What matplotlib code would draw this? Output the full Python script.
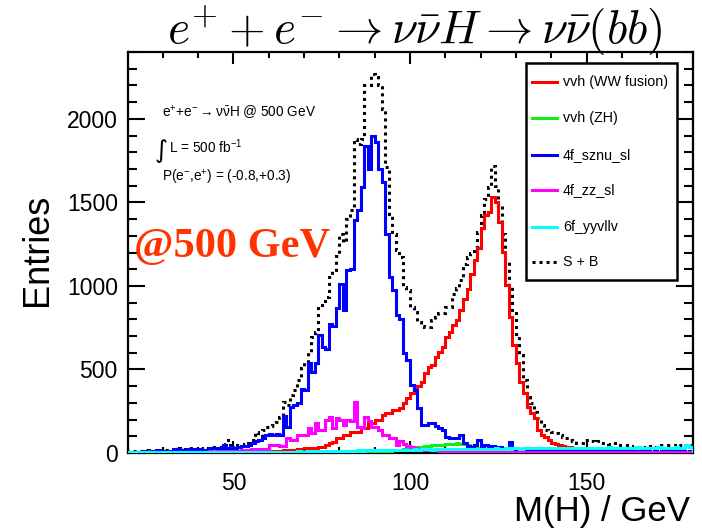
import numpy as np
import matplotlib
matplotlib.use("Agg")
import matplotlib.pyplot as plt
from matplotlib.ticker import MultipleLocator, FixedLocator
from matplotlib.lines import Line2D
from matplotlib.patches import Rectangle

plt.rcParams['font.family'] = ['Liberation Sans', 'DejaVu Sans']
plt.rcParams['mathtext.fontset'] = 'custom'
plt.rcParams['mathtext.rm'] = 'Liberation Sans'
plt.rcParams['mathtext.it'] = 'Liberation Sans'
plt.rcParams['mathtext.bf'] = 'Liberation Sans:bold'

# ---------------- data (1 GeV bins, 20..180 GeV) ----------------
bin_low = 20
bin_high = 180

vvh_ww = [
    2, 2, 2, 2, 3, 2, 3, 3, 3, 3,
    3, 3, 3, 3, 4, 3, 4, 4, 4, 4,
    4, 4, 5, 4, 5, 5, 5, 5, 6, 5,
    5, 5, 6, 6, 7, 8, 8, 8, 9, 10,
    10, 12, 12, 14, 18, 18, 20, 20, 22, 22,
    28, 28, 30, 30, 38, 38, 45, 58, 68, 88,
    90, 108, 108, 127, 127, 127, 147, 147, 177, 177,
    197, 197, 227, 237, 240, 257, 260, 270, 300, 327,
    357, 386, 400, 426, 476, 516, 526, 576, 606, 635,
    695, 725, 765, 795, 855, 924, 984, 1070, 1158, 1228,
    1348, 1427, 1442, 1532, 1502, 1382, 1203, 1004, 815, 645,
    536, 426, 357, 277, 240, 207, 137, 110, 98, 75,
    62, 52, 45, 40, 38, 35, 30, 25, 20, 18,
    15, 14, 12, 10, 10, 8, 8, 7, 6, 6,
    5, 5, 5, 5, 4, 4, 4, 4, 3, 3,
    3, 3, 3, 3, 2, 2, 2, 2, 2, 2]

vvh_zh = [
    0, 0, 1, 0, 0, 1, 0, 0, 1, 0,
    1, 0, 1, 1, 0, 1, 1, 0, 1, 1,
    1, 1, 2, 1, 1, 2, 1, 2, 2, 1,
    2, 2, 2, 3, 2, 3, 3, 2, 3, 3,
    3, 3, 4, 3, 4, 4, 3, 4, 5, 4,
    5, 5, 4, 6, 5, 6, 6, 5, 7, 6,
    7, 7, 8, 7, 8, 9, 8, 10, 9, 10,
    10, 11, 12, 12, 14, 15, 18, 20, 22, 25,
    28, 32, 35, 38, 40, 42, 45, 48, 50, 50,
    52, 55, 55, 58, 55, 52, 48, 42, 38, 30,
    25, 20, 15, 12, 10, 8, 6, 5, 4, 3,
    2, 3, 2, 2, 1, 2, 2, 1, 1, 2,
    1, 1, 2, 1, 1, 1, 0, 1, 1, 0,
    1, 0, 1, 0, 1, 0, 0, 1, 0, 0,
    1, 0, 0, 1, 0, 0, 0, 1, 0, 0,
    0, 1, 0, 0, 0, 1, 0, 0, 0, 0]

f4_sznu_sl = [
    5, 8, 5, 6, 10, 5, 8, 10, 15, 12,
    8, 14, 10, 25, 22, 18, 15, 22, 24, 20,
    22, 15, 18, 28, 30, 26, 30, 48, 32, 34,
    30, 38, 42, 40, 45, 58, 70, 76, 88, 108,
    112, 110, 115, 110, 220, 157, 277, 290, 300, 386,
    380, 536, 486, 536, 705, 635, 620, 775, 760, 865,
    1014, 855, 1094, 1100, 1392, 1452, 1592, 1840, 1700, 1900,
    1860, 1700, 1620, 1313, 1054, 974, 825, 800, 596, 556,
    406, 376, 267, 170, 167, 177, 177, 160, 147, 140,
    98, 88, 88, 90, 108, 58, 40, 38, 45, 78,
    40, 45, 38, 40, 30, 35, 28, 30, 65, 25,
    22, 25, 20, 18, 22, 20, 18, 15, 20, 18,
    15, 18, 15, 12, 15, 18, 14, 12, 15, 12,
    14, 12, 10, 12, 14, 10, 12, 10, 8, 12,
    10, 12, 8, 10, 12, 8, 10, 12, 8, 10,
    8, 10, 12, 8, 10, 8, 12, 10, 8, 10]

f4_zz_sl = [
    3, 4, 2, 3, 4, 2, 3, 5, 4, 3,
    5, 4, 6, 5, 4, 6, 5, 7, 6, 5,
    8, 6, 7, 9, 8, 10, 9, 12, 10, 12,
    14, 12, 15, 16, 18, 22, 20, 24, 22, 26,
    48, 45, 50, 40, 42, 88, 78, 80, 108, 105,
    110, 147, 120, 177, 137, 140, 197, 217, 147, 207,
    197, 167, 197, 190, 307, 157, 147, 217, 190, 157,
    157, 137, 107, 107, 88, 88, 48, 70, 52, 40,
    38, 30, 25, 22, 20, 18, 16, 15, 14, 12,
    12, 10, 11, 10, 9, 10, 9, 8, 9, 8,
    8, 9, 8, 7, 8, 7, 8, 7, 6, 7,
    6, 7, 6, 5, 6, 5, 6, 5, 5, 6,
    5, 6, 5, 5, 4, 5, 5, 4, 5, 4,
    5, 4, 5, 4, 4, 5, 4, 4, 5, 4,
    4, 5, 4, 4, 3, 4, 4, 3, 4, 3,
    4, 3, 4, 3, 3, 4, 3, 3, 4, 3]

f6_yyvllv = [
    3, 3, 4, 3, 4, 3, 4, 3, 4, 4,
    4, 4, 5, 4, 5, 4, 5, 5, 4, 5,
    5, 5, 6, 5, 6, 5, 6, 6, 5, 6,
    6, 6, 7, 6, 7, 6, 7, 7, 6, 7,
    7, 7, 8, 7, 8, 7, 8, 8, 9, 8,
    8, 9, 9, 10, 9, 10, 10, 11, 10, 12,
    12, 12, 13, 14, 13, 15, 14, 16, 15, 16,
    16, 17, 16, 18, 17, 18, 19, 18, 20, 19,
    20, 21, 20, 22, 21, 22, 20, 23, 22, 21,
    22, 23, 21, 24, 22, 23, 24, 22, 25, 23,
    24, 26, 23, 25, 27, 24, 26, 28, 25, 27,
    28, 26, 29, 27, 30, 28, 31, 29, 30, 32,
    30, 28, 31, 29, 32, 30, 28, 31, 29, 30,
    31, 29, 32, 30, 28, 31, 33, 30, 29, 31,
    30, 32, 29, 31, 33, 30, 28, 32, 30, 31,
    33, 30, 32, 29, 31, 34, 30, 32, 45, 38]

s_plus_b = [
    12, 10, 14, 10, 12, 15, 12, 14, 18, 20,
    16, 18, 20, 26, 28, 24, 22, 28, 30, 26,
    28, 24, 30, 34, 36, 34, 38, 54, 78, 50,
    48, 50, 48, 54, 60, 78, 127, 100, 140, 157,
    160, 167, 187, 217, 307, 287, 347, 376, 436, 506,
    546, 606, 695, 725, 885, 885, 935, 1054, 1094, 1180,
    1313, 1263, 1402, 1452, 1880, 1851, 1880, 2200, 2200, 2269,
    2250, 2200, 2060, 1711, 1432, 1313, 1213, 1173, 996, 974,
    875, 845, 785, 760, 755, 755, 795, 815, 835, 840,
    875, 875, 954, 990, 1034, 1133, 1173, 1200, 1233, 1323,
    1422, 1522, 1592, 1720, 1600, 1480, 1313, 1150, 994, 855,
    715, 586, 436, 337, 297, 247, 207, 167, 137, 130,
    127, 120, 110, 98, 90, 78, 70, 58, 60, 78,
    75, 70, 68, 70, 58, 58, 55, 58, 50, 48,
    48, 45, 40, 38, 38, 40, 38, 38, 40, 38,
    40, 45, 48, 48, 45, 40, 48, 42, 45, 50]

legend_labels = ["vvh (WW fusion)", "vvh (ZH)", "4f_sznu_sl", "4f_zz_sl", "6f_yyvllv", "S + B"]
colors = ["#ff0000", "#11ee11", "#0000ff", "#ff00ff", "#00ffff", "black"]
x_major = [50, 100, 150]
y_major = [0, 500, 1000, 1500, 2000]

# ---------------- figure ----------------
W, H = 702, 531
fig = plt.figure(figsize=(W / 100, H / 100), dpi=100)
ax_l, ax_r, ax_b, ax_t = 127.5, 692.5, 453.0, 52.0
ax = fig.add_axes([ax_l / W, 1 - ax_b / H, (ax_r - ax_l) / W, (ax_b - ax_t) / H])

edges = np.arange(bin_low, bin_high + 1, 1)
lw = 2.2
ax.stairs(s_plus_b, edges, color="black", lw=lw, linestyle=(0, (1, 1.3)), zorder=2)
series = [vvh_ww, vvh_zh, f4_sznu_sl, f4_zz_sl, f6_yyvllv]
for vals, c in zip(series, colors[:5]):
    ax.stairs(vals, edges, color=c, lw=lw, zorder=3)

ax.set_xlim(bin_low, bin_high)
ax.set_ylim(0, 2400)
ax.xaxis.set_major_locator(FixedLocator(x_major))
ax.xaxis.set_minor_locator(MultipleLocator(10))
ax.yaxis.set_major_locator(FixedLocator(y_major))
ax.yaxis.set_minor_locator(MultipleLocator(100))
ax.tick_params(which='both', direction='in', top=True, right=True, width=1.5, labelsize=16.5)
ax.tick_params(axis='x', which='major', length=8.8, pad=14)
ax.tick_params(axis='x', which='minor', length=4.4)
ax.tick_params(axis='y', which='major', length=12.5, pad=7)
ax.tick_params(axis='y', which='minor', length=6.2)
for s in ax.spines.values():
    s.set_linewidth(1.6)

# axis titles
fig.text(37 / W, 1 - 250 / H, "Entries", rotation=90, ha='center', va='center', fontsize=26)
fig.text(690 / W, 1 - 521 / H, "M(H) / GeV", ha='right', va='baseline', fontsize=25)

# title
fig.text(415 / W, 1 - 44 / H, r"$e^{+}+e^{-}\rightarrow\nu\bar{\nu}H\rightarrow\nu\bar{\nu}(bb)$",
         ha='center', va='baseline', fontsize=34, math_fontfamily='cm', zorder=1)

# in-plot texts (axes fraction coordinates from pixel positions)
def axp(px, py):
    return ((px - ax_l) / (ax_r - ax_l), (ax_b - py) / (ax_b - ax_t))

ax.text(*axp(162, 117), r"e$^{+}$+e$^{-}$$\rightarrow$$\nu\bar{\nu}$H @ 500 GeV",
        transform=ax.transAxes, fontsize=9.8, ha='left', va='baseline')
ax.text(*axp(155, 158), "\u222b", transform=ax.transAxes, fontsize=18, ha='left', va='baseline',
        family=['DejaVu Sans'])
ax.text(*axp(169, 153), r"L = 500 fb$^{-1}$", transform=ax.transAxes, fontsize=9.8,
        ha='left', va='baseline')
ax.text(*axp(162, 182), r"P(e$^{-}$,e$^{+}$) = (-0.8,+0.3)", transform=ax.transAxes,
        fontsize=9.8, ha='left', va='baseline')
ax.text(*axp(134, 257), "@500 GeV", transform=ax.transAxes, fontsize=30.5, fontweight='bold',
        family=['Liberation Serif'], color='#ff3300', ha='left', va='baseline', zorder=5)

# legend box
x0, y0 = axp(526, 280)
x1, y1 = axp(677, 63)
ax.add_patch(Rectangle((x0, y0), x1 - x0, y1 - y0, transform=ax.transAxes, facecolor='white',
                       edgecolor='black', lw=1.8, zorder=6))
rows = [82, 118, 155, 190, 227, 262]
for lab, c, py in zip(legend_labels, colors, rows):
    la, yy = axp(532, py)
    lb, _ = axp(557, py)
    ls = (0, (1, 1.3)) if lab == "S + B" else '-'
    ax.add_line(Line2D([la, lb], [yy, yy], transform=ax.transAxes, color=c, lw=lw,
                       linestyle=ls, zorder=7))
    tx, _ = axp(563, py)
    ax.text(tx, yy, lab, transform=ax.transAxes, fontsize=10.3, ha='left', va='center', zorder=7)

fig.savefig("out.png", dpi=100)
